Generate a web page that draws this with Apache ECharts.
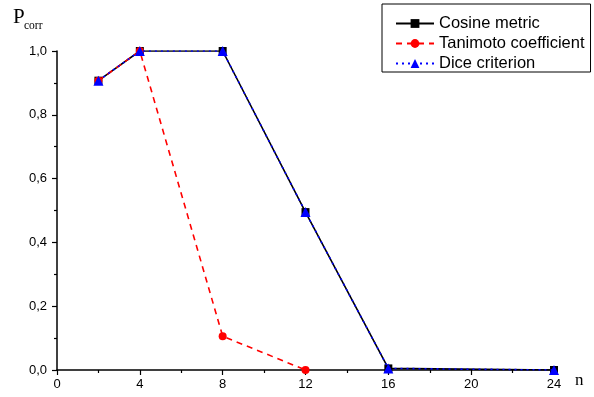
<!DOCTYPE html>
<html lang="en">
<head>
    <meta charset="UTF-8">
    <title>Pcorr vs n</title>
    <script src="https://cdn.jsdelivr.net/npm/echarts@6/dist/echarts.min.js"></script>
    <style>
        body { margin: 0; background: #fff; }
    </style>
</head>
<body>
<div id="main" style="width: 594px;height:397px;"></div>
<script type="text/javascript">
    // n values and the three measures
    var nValues = [2, 4, 8, 12, 16, 24];
    var cosine = [0.907, 1.0, 1.0, 0.495, 0.005, 0.0];
    var tanimotoN = [2, 4, 8, 12];
    var tanimoto = [0.907, 1.0, 0.106, 0.0];
    var dice = [0.907, 1.0, 1.0, 0.495, 0.005, 0.0];
    var xTicks = [0, 4, 8, 12, 16, 20, 24];
    var yTicks = [0, 0.2, 0.4, 0.6, 0.8, 1.0];

    function pairs(xs, ys) {
        var out = [];
        for (var i = 0; i < xs.length; i++) {
            out.push([xs[i], ys[i]]);
        }
        return out;
    }

    var myChart = echarts.init(document.getElementById('main'));
    var axisFont = { fontFamily: 'Liberation Sans, Arial', fontSize: 13, color: '#000' };

    myChart.setOption({
        animation: false,
        backgroundColor: '#fff',
        grid: { left: 57, right: 40, top: 51, bottom: 27 },
        legend: {
            orient: 'vertical',
            left: 382,
            top: 4,
            padding: [11, 6, 0, 13],
            borderColor: '#000',
            borderWidth: 1,
            itemWidth: 38,
            itemHeight: 11,
            itemGap: 3,
            textStyle: { fontFamily: 'Liberation Sans, Arial', fontSize: 16.5, lineHeight: 16, color: '#000' },
            data: ['Cosine metric', 'Tanimoto coefficient', 'Dice criterion']
        },
        xAxis: {
            type: 'value',
            min: xTicks[0],
            max: xTicks[xTicks.length - 1],
            interval: 4,
            axisLine: { lineStyle: { color: '#000', width: 1.5 } },
            axisTick: { inside: false, length: 5, lineStyle: { color: '#000', width: 1.2 } },
            minorTick: { show: true, splitNumber: 2, length: 3, lineStyle: { color: '#000', width: 1.2 } },
            axisLabel: Object.assign({ margin: 8 }, axisFont),
            splitLine: { show: false }
        },
        yAxis: {
            type: 'value',
            min: yTicks[0],
            max: yTicks[yTicks.length - 1],
            interval: 0.2,
            axisLine: { show: true, lineStyle: { color: '#000', width: 1.5 } },
            axisTick: { show: true, inside: false, length: 5, lineStyle: { color: '#000', width: 1.2 } },
            minorTick: { show: true, splitNumber: 2, length: 3, lineStyle: { color: '#000', width: 1.2 } },
            axisLabel: Object.assign({
                margin: 10,
                formatter: function (v) { return v.toFixed(1).replace('.', ','); }
            }, axisFont),
            splitLine: { show: false }
        },
        graphic: [
            {
                type: 'text', left: 13, top: 7,
                style: { text: 'P', fontFamily: 'Liberation Serif, Times New Roman', fontSize: 21, fill: '#000' }
            },
            {
                type: 'text', left: 24, top: 20,
                style: { text: 'corr', fontFamily: 'Liberation Serif, Times New Roman', fontSize: 11.5, fill: '#000' }
            },
            {
                type: 'text', left: 575, top: 372,
                style: { text: 'n', fontFamily: 'Liberation Serif, Times New Roman', fontSize: 17, fill: '#000' }
            }
        ],
        series: [
            {
                name: 'Cosine metric',
                type: 'line',
                data: pairs(nValues, cosine),
                symbol: 'rect',
                symbolSize: 8,
                itemStyle: { color: '#000' },
                lineStyle: { color: '#000', width: 1.6, type: 'solid' },
                z: 2
            },
            {
                name: 'Tanimoto coefficient',
                type: 'line',
                data: pairs(tanimotoN, tanimoto),
                symbol: 'circle',
                symbolSize: 8,
                itemStyle: { color: '#ff0000' },
                lineStyle: { color: '#ff0000', width: 1.6, type: [6, 5] },
                z: 3
            },
            {
                name: 'Dice criterion',
                type: 'line',
                data: pairs(nValues, dice),
                symbol: 'triangle',
                symbolSize: 10,
                itemStyle: { color: '#0000ff' },
                lineStyle: { color: '#0000ff', width: 1.6, type: [2, 4] },
                z: 4
            }
        ]
    });
</script>
</body>
</html>
